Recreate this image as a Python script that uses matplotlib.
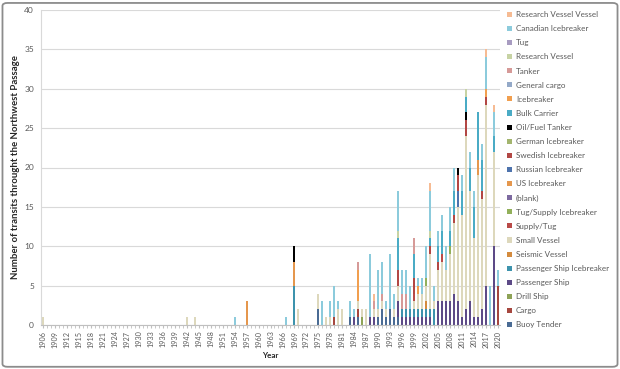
import numpy as np
import matplotlib.pyplot as plt
from matplotlib.patches import FancyBboxPatch

plt.rcParams['font.family'] = ['Lato', 'DejaVu Sans']

years = list(range(1906, 2021))

# transits per vessel type, year -> count (missing years = 0)
buoy_tender = {1975: 2, 1983: 1, 1985: 1, 1990: 1, 1991: 2, 1992: 1, 1993: 2, 1994: 1, 1995: 1}
cargo = {1979: 1, 1985: 1, 2020: 5}
drill_ship = {1986: 1}
passenger_ship = {1984: 1, 1988: 1, 1989: 1, 1995: 2, 1996: 1, 1997: 1, 1998: 1, 1999: 1, 2000: 1,
                  2001: 1, 2002: 1, 2003: 1, 2005: 3, 2006: 3, 2007: 3, 2008: 3, 2009: 4, 2010: 3,
                  2011: 1, 2012: 2, 2013: 3, 2014: 1, 2015: 1, 2016: 2, 2017: 5, 2019: 10}
passenger_ship_icebreaker = {1969: 5, 1996: 1, 1997: 1, 1998: 1, 1999: 1, 2000: 1, 2001: 1,
                             2002: 1, 2003: 1, 2004: 2}
seismic_vessel = {2002: 1}
small_vessel = {1906: 1, 1942: 1, 1944: 1, 1970: 2, 1975: 2, 1977: 1, 1978: 1, 1980: 2, 1981: 2,
                1985: 1, 1986: 1, 1987: 2, 1989: 1, 1990: 1, 1991: 1, 1992: 1, 1994: 1, 1995: 2,
                1999: 1, 2000: 2, 2001: 2, 2002: 2, 2003: 7, 2004: 1, 2005: 4, 2006: 5, 2007: 4,
                2008: 6, 2009: 9, 2010: 12, 2011: 13, 2012: 22, 2013: 14, 2014: 10, 2015: 18,
                2016: 14, 2017: 23, 2019: 12}
supply_tug = {1999: 1, 2006: 1}
tug_supply_icebreaker = {2002: 1, 2008: 1}
blank = {}
us_icebreaker = {1957: 3, 1969: 3, 2015: 2}
russian_icebreaker = {2010: 2}
swedish_icebreaker = {1995: 2, 1999: 2, 2003: 1, 2005: 1, 2009: 1, 2010: 2, 2012: 2, 2016: 1, 2017: 1}
german_icebreaker = {}
oil_fuel_tanker = {1969: 2, 2010: 1, 2012: 1}
bulk_carrier = {1995: 4, 1999: 3, 2003: 1, 2005: 2, 2006: 3, 2008: 2, 2009: 3, 2011: 3, 2012: 2,
                2013: 3, 2014: 4, 2015: 6, 2016: 4, 2019: 2}
icebreaker = {1985: 4, 2000: 1, 2017: 1}
general_cargo = {}
tanker = {1985: 1, 1989: 1, 1991: 1, 1996: 2, 1997: 2, 1999: 2}
research_vessel = {1995: 1, 2003: 1, 2012: 1}
tug = {}
canadian_icebreaker = {1954: 1, 1967: 1, 1976: 3, 1978: 2, 1979: 4, 1980: 1, 1983: 2, 1984: 1,
                       1988: 8, 1990: 5, 1991: 4, 1992: 1, 1993: 7, 1994: 2, 1995: 5, 1996: 3,
                       1997: 3, 1998: 3, 2000: 1, 2001: 2, 2002: 4, 2003: 5, 2004: 2, 2005: 2,
                       2006: 2, 2007: 3, 2008: 3, 2009: 3, 2011: 2, 2013: 2, 2014: 2, 2016: 2,
                       2017: 4, 2018: 5, 2019: 3, 2020: 2}
research_vessel_vessel = {1989: 1, 2003: 1, 2017: 1, 2019: 1}

# bottom of the stack first
series = [
    ('Buoy Tender', buoy_tender, '#4a6b94'),
    ('Cargo', cargo, '#a6473f'),
    ('Drill Ship', drill_ship, '#8ea357'),
    ('Passenger Ship', passenger_ship, '#5d4a87'),
    ('Passenger Ship Icebreaker', passenger_ship_icebreaker, '#3d93ad'),
    ('Seismic Vessel', seismic_vessel, '#d48b3e'),
    ('Small Vessel', small_vessel, '#ddd8bc'),
    ('Supply/Tug', supply_tug, '#b94a48'),
    ('Tug/Supply Icebreaker', tug_supply_icebreaker, '#92b05a'),
    ('(blank)', blank, '#7d6aa0'),
    ('US Icebreaker', us_icebreaker, '#e5974d'),
    ('Russian Icebreaker', russian_icebreaker, '#4e73ad'),
    ('Swedish Icebreaker', swedish_icebreaker, '#b24744'),
    ('German Icebreaker', german_icebreaker, '#a3b56e'),
    ('Oil/Fuel Tanker', oil_fuel_tanker, '#000000'),
    ('Bulk Carrier', bulk_carrier, '#4aabc5'),
    ('Icebreaker', icebreaker, '#f19f4f'),
    ('General cargo', general_cargo, '#94a9c8'),
    ('Tanker', tanker, '#d69a98'),
    ('Research Vessel', research_vessel, '#c7d3a4'),
    ('Tug', tug, '#a89cc1'),
    ('Canadian Icebreaker', canadian_icebreaker, '#8ccbdc'),
    ('Research Vessel Vessel', research_vessel_vessel, '#f6bb93'),
]

fig = plt.figure(figsize=(6.2, 3.69), dpi=100)
ax = fig.add_axes([41/620, 1-325/369, 459/620, 315/369])

x = np.arange(len(years))
bottom = np.zeros(len(years))
handles = []
for name, d, col in series:
    vals = np.array([d.get(y, 0) for y in years], dtype=float)
    h = ax.bar(x, vals, 0.5, bottom=bottom, color=col, label=name, linewidth=0)
    bottom += vals
    handles.append(h)

ax.set_xlim(-0.5, len(years) - 0.5)
ax.set_ylim(0, 40)
ax.set_yticks(range(0, 41, 5))
ax.yaxis.grid(True, color='#d9d9d9', lw=0.8)
ax.set_axisbelow(True)
ax.set_xticks(x[::3])
ax.set_xticklabels([str(y) for y in years[::3]], rotation=90, fontsize=5.2, color='#595959')
ax.set_xticks(x, minor=True)
ax.tick_params(axis='x', which='both', length=2, color='#bfbfbf', pad=2)
ax.tick_params(axis='y', length=0, labelsize=6, labelcolor='#595959', pad=5)
for s in ['top', 'right']:
    ax.spines[s].set_visible(False)
ax.spines['left'].set_color('#d9d9d9')
ax.spines['bottom'].set_color('#bfbfbf')

ax.set_ylabel('Number of transits throught the Northwest Passage', fontsize=6.9,
              fontweight='bold', color='#262626', labelpad=3)
ax.set_xlabel('Year', fontsize=5.8, fontweight='bold', color='#262626', labelpad=3)

fig.legend(handles[::-1], [s[0] for s in series][::-1], loc='upper left',
           bbox_to_anchor=(504/620, 1-8/369), frameon=False, fontsize=5.8,
           labelcolor='#595959', handlelength=0.6, handleheight=0.6,
           handletextpad=0.5, labelspacing=0.88, borderaxespad=0)

fig.patches.append(FancyBboxPatch((0.004, 0.006), 0.992, 0.986,
                                  boxstyle='round,pad=0,rounding_size=0.008',
                                  transform=fig.transFigure, fill=False,
                                  edgecolor='#8c8c8c', lw=1.3))

fig.savefig('out.png', dpi=100)
